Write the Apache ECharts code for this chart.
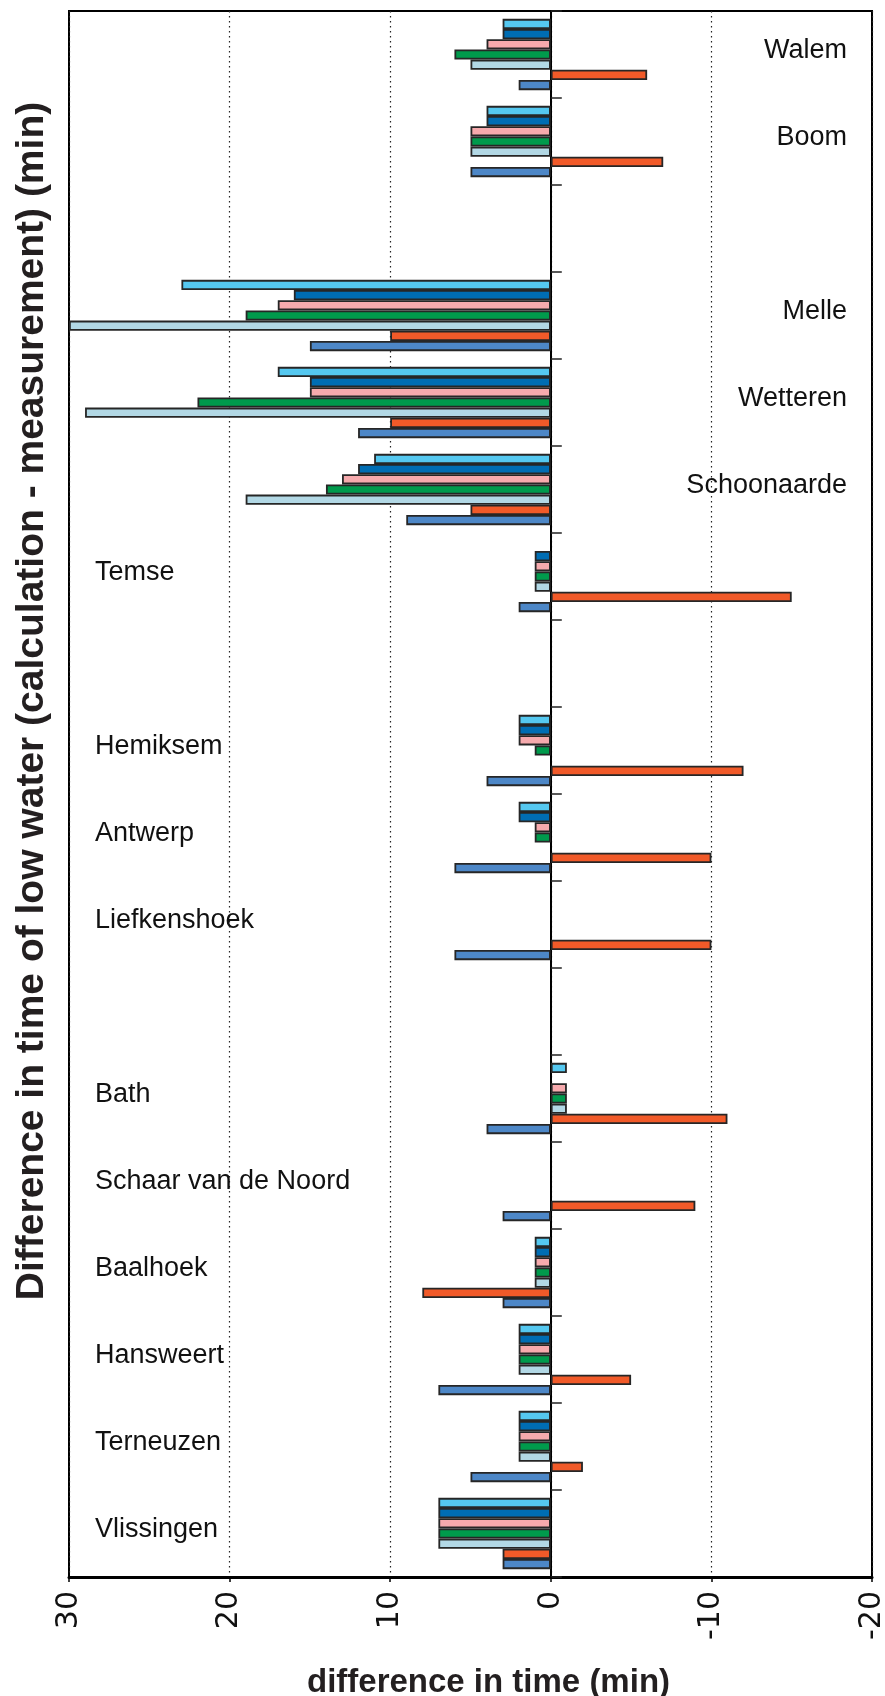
<!DOCTYPE html>
<html><head><meta charset="utf-8">
<script src="https://cdn.jsdelivr.net/npm/echarts@6/dist/echarts.min.js"></script>
<style>html,body{margin:0;padding:0;background:#fff}#c{width:885px;height:1696px}</style>
</head><body><div id="c"></div>
<script>
const categories = ['Walem','Boom',' ','Melle','Wetteren','Schoonaarde','Temse','  ','Hemiksem','Antwerp','Liefkenshoek','   ','Bath','Schaar van de Noord','Baalhoek','Hansweert','Terneuzen','Vlissingen'];
const rightSideLabels = ['Walem','Boom','Melle','Wetteren','Schoonaarde'];
const xTicks = [-20,-10,0,10,20,30];
const seriesNames = ['Series 1','Series 2','Series 3','Series 4','Series 5','Series 6','Series 7'];
const s1 = [3,4,null,23,17,11,null,null,2,2,null,null,-1,null,1,2,2,7];
const s2 = [3,4,null,16,15,12,1,null,2,2,null,null,null,null,1,2,2,7];
const s3 = [4,5,null,17,15,13,1,null,2,1,null,null,-1,null,1,2,2,7];
const s4 = [6,5,null,19,22,14,1,null,1,1,null,null,-1,null,1,2,2,7];
const s5 = [5,5,null,30,29,19,1,null,null,null,null,null,-1,null,1,2,2,7];
const s6 = [-6,-7,null,10,10,5,-15,null,-12,-10,-10,null,-11,-9,8,-5,-2,3];
const s7 = [2,5,null,15,12,9,2,null,4,6,6,null,4,3,3,7,5,3];
const colors = ['#55c8f0','#006db3','#f6aaad','#009a4c','#b2d8e5','#f15a29','#4d87c7'];
const allSeries = [s1,s2,s3,s4,s5,s6,s7];

const FONT = '"Liberation Sans", Arial, Helvetica, sans-serif';
const stationRich = {t: {fontSize: 27, color: '#111', fontFamily: FONT, padding: [0,0,7,0]}};
const chart = echarts.init(document.getElementById('c'), null, {renderer:'canvas'});
const option = {
  animation: false,
  backgroundColor: '#fff',
  grid: {left: 69, right: 13, top: 11, bottom: 119, show: true, borderColor: '#000', borderWidth: 2, containLabel: false, outerBoundsMode: 'none'},
  xAxis: {
    type: 'value', inverse: true, min: -20, max: 30, interval: 10,
    axisLine: {show: true, onZero: false, lineStyle: {color: '#000', width: 3}},
    axisTick: {show: true, length: 5, lineStyle: {color: '#000', width: 1.5}},
    axisLabel: {rotate: 90, margin: 14, fontSize: 30, color: '#111', fontFamily: '"DejaVu Sans", sans-serif',
      formatter: v => xTicks.includes(v) ? String(v) : ''},
    splitLine: {show: true, lineStyle: {color: '#222', width: 1.2, type: [1.5, 3.5]}},
    name: 'difference in time (min)', nameLocation: 'middle', nameGap: 89,
    nameTextStyle: {fontSize: 33, fontWeight: 'bold', color: '#231f20', fontFamily: FONT, padding: [0,0,0,36]}
  },
  yAxis: [
    {
      type: 'category', data: categories, inverse: true,
      axisLine: {show: true, onZero: true, lineStyle: {color: '#000', width: 2}},
      axisTick: {show: true, inside: true, length: 11, interval: 0, lineStyle: {color: '#222', width: 1.5}},
      axisLabel: {show: false},
      splitLine: {show: false}
    },
    {
      type: 'category', data: categories, inverse: true, position: 'left',
      axisLine: {show: false, onZero: false}, axisTick: {show: false},
      axisLabel: {show: true, inside: true, margin: 26, interval: 0, fontSize: 27, color: '#111', fontFamily: FONT,
        rich: stationRich,
        formatter: v => rightSideLabels.includes(v) || !v.trim() ? '' : '{t|' + v + '}'},
      name: 'Difference in time of low water (calculation - measurement) (min)',
      nameLocation: 'middle', nameRotate: 90, nameGap: 17,
      nameTextStyle: {fontSize: 39, fontWeight: 'bold', color: '#231f20', fontFamily: FONT, padding: [0,0,0,186]}
    },
    {
      type: 'category', data: categories, inverse: true, position: 'right',
      axisLine: {show: false, onZero: false}, axisTick: {show: false},
      axisLabel: {show: true, inside: true, margin: 25, interval: 0, fontSize: 27, color: '#111', fontFamily: FONT,
        rich: stationRich,
        formatter: v => rightSideLabels.includes(v) ? '{t|' + v + '}' : ''}
    }
  ],
  series: allSeries.map((d, i) => ({
    type: 'bar', name: seriesNames[i], data: d, yAxisIndex: 0,
    barGap: '0%', barCategoryGap: '18%',
    itemStyle: {color: colors[i], borderColor: '#262626', borderWidth: 1.8},
    emphasis: {disabled: true}
  }))
};
chart.setOption(option);
</script></body></html>
